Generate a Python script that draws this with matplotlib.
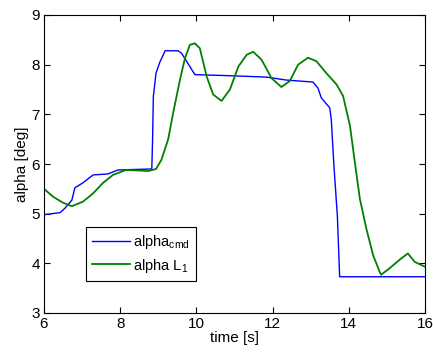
import matplotlib as mpl
import matplotlib.pyplot as plt
from matplotlib.ticker import MultipleLocator

mpl.rcParams['font.family'] = ['Liberation Sans', 'DejaVu Sans']
mpl.rcParams['mathtext.fontset'] = 'custom'
mpl.rcParams['mathtext.rm'] = 'Liberation Sans'
mpl.rcParams['mathtext.it'] = 'Liberation Sans'

# commanded angle of attack
t_cmd = [6.0, 6.42, 6.55, 6.73, 6.81, 7.02, 7.29, 7.68, 7.94, 8.82, 8.83, 8.85, 8.87,
         8.94, 9.04, 9.18, 9.52, 9.61, 9.83, 9.96, 10.79, 11.84, 12.36, 13.06, 13.19,
         13.28, 13.5, 13.54, 13.61, 13.7, 13.76, 16.0]
alpha_cmd = [4.98, 5.02, 5.11, 5.27, 5.52, 5.62, 5.78, 5.8, 5.88, 5.9, 5.92, 6.5, 7.36,
             7.83, 8.05, 8.28, 8.28, 8.23, 7.96, 7.8, 7.78, 7.75, 7.69, 7.65, 7.53,
             7.33, 7.13, 6.9, 5.96, 4.95, 3.73, 3.73]

# L1 adaptive response
t_l1 = [6.0, 6.24, 6.5, 6.73, 7.02, 7.29, 7.55, 7.81, 8.15, 8.75, 8.94, 9.08, 9.26,
        9.39, 9.57, 9.7, 9.83, 9.96, 10.09, 10.27, 10.44, 10.66, 10.88, 11.1, 11.32,
        11.49, 11.71, 11.97, 12.23, 12.45, 12.67, 12.93, 13.15, 13.41, 13.68, 13.85,
        14.03, 14.16, 14.29, 14.46, 14.64, 14.81, 14.85, 15.07, 15.33, 15.55, 15.73, 16.0]
alpha_l1 = [5.5, 5.34, 5.22, 5.15, 5.24, 5.41, 5.62, 5.78, 5.88, 5.86, 5.9, 6.08, 6.5,
            7.03, 7.7, 8.13, 8.4, 8.43, 8.33, 7.76, 7.4, 7.27, 7.5, 7.96, 8.2,
            8.26, 8.1, 7.73, 7.55, 7.67, 8.0, 8.14, 8.07, 7.83, 7.6, 7.37,
            6.77, 6.03, 5.3, 4.7, 4.16, 3.83, 3.77, 3.9, 4.07, 4.2, 4.03, 3.93]

fig = plt.figure(figsize=(4.33, 3.53), dpi=100)
ax = fig.add_axes([44/433, 1-313/353, 381/433, 298/353])

ax.plot(t_cmd, alpha_cmd, color='#0000ff', lw=1.0, label='alpha$_{\\mathrm{cmd}}$')
ax.plot(t_l1, alpha_l1, color='#008000', lw=1.3, label='alpha L$_1$')

ax.set_xlim(6, 16)
ax.set_ylim(3, 9)
ax.xaxis.set_major_locator(MultipleLocator(2))
ax.yaxis.set_major_locator(MultipleLocator(1))
ax.tick_params(direction='in', top=True, right=True, length=4, labelsize=11, pad=3)
ax.set_xlabel('time [s]', fontsize=11, labelpad=0)
ax.set_ylabel('alpha [deg]', fontsize=11, labelpad=2)

leg = ax.legend(loc='lower left', bbox_to_anchor=(0.11, 0.107), borderaxespad=0,
                fontsize=10.5, fancybox=False, edgecolor='black', framealpha=1,
                handlelength=2.6, borderpad=0.45, labelspacing=0.35, handletextpad=0.2)
leg.get_frame().set_linewidth(0.8)

plt.savefig('out.png', dpi=100)
